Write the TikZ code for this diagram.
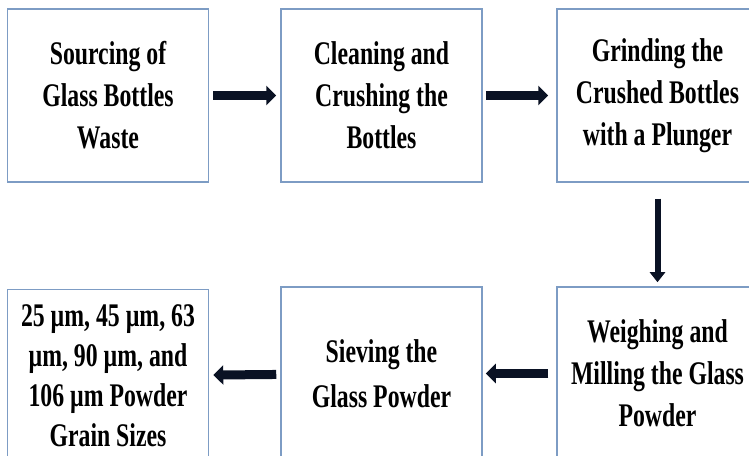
\documentclass[tikz,border=0pt]{standalone}
\usepackage{fontspec}
\setmainfont{Liberation Serif}[FakeStretch=0.72]
\usetikzlibrary{arrows.meta}
\definecolor{boxblue}{rgb}{0.49,0.61,0.77}
\definecolor{arrownavy}{rgb}{0.04,0.07,0.14}

\begin{document}
\begin{tikzpicture}[yscale=-1,x=1bp,y=1bp,
  step box/.style={draw=boxblue,line width=1.5bp,fill=white,minimum width=201bp,
    minimum height=173bp,inner sep=0pt,align=center,
    font=\fontsize{33bp}{42bp}\selectfont\bfseries},
  flow/.style={line width=9bp,arrownavy,-{Triangle[length=10bp,width=19bp]}},
  flowdown/.style={line width=6bp,arrownavy,-{Triangle[length=10bp,width=15bp]}}]

  \useasboundingbox (0,0) rectangle (749,456);
  \clip (0,0) rectangle (749,456);

  % --- obere Reihe ---
  \node[step box] (source) at (108,95.5) {Sourcing of\\Glass Bottles\\Waste};
  \node[step box] (clean) at (381.5,95.5) {Cleaning and\\Crushing the\\Bottles};
  \node[step box] (grind) at (657.5,95.5) {Grinding the\\Crushed Bottles\\with a Plunger};

  % --- untere Reihe (von rechts nach links) ---
  \node[step box] (weigh) at (657.5,373.5) {Weighing and\\Milling the Glass\\Powder};
  \node[step box] (sieve) at (381.5,373.5) {Sieving the\\[3bp]Glass Powder};
  \node[step box,font=\fontsize{33bp}{40bp}\selectfont\bfseries] (grains) at (108,376)
    {25 µm, 45 µm, 63\\µm, 90 µm, and\\106 µm Powder\\Grain Sizes};

  % --- Pfeile ---
  \draw[flow,shorten <=4bp,shorten >=4bp] (source) -- (clean);
  \draw[flow,shorten <=3bp,shorten >=8bp] (clean) -- (grind);
  \draw[flowdown,shorten <=16bp,shorten >=4bp] (grind) -- (weigh);
  \draw[flow,shorten <=8bp,shorten >=3bp] (weigh) -- (sieve);
  \draw[flow,shorten <=4bp,shorten >=4bp] (sieve) -- (grains);

\end{tikzpicture}
\end{document}
